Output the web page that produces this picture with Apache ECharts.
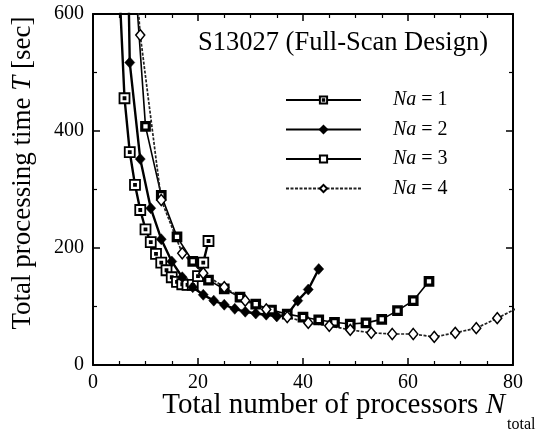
<!DOCTYPE html>
<html>
<head>
<meta charset="utf-8">
<script src="https://cdn.jsdelivr.net/npm/echarts@6/dist/echarts.min.js"></script>
<style>
html,body{margin:0;padding:0;background:#fff;}
#chart{width:541px;height:436px;}
</style>
</head>
<body>
<div id="chart"></div>
<script>
// ---- data ----
const seriesNames = ['Na = 1', 'Na = 2', 'Na = 3', 'Na = 4'];
const nNa1 = [5, 6, 7, 8, 9, 10, 11, 12, 13, 14, 15, 16, 17, 18, 19, 20, 21, 22];
const tNa1 = [650, 456, 364, 308, 265, 232, 210, 190, 175, 162, 150, 142, 138, 137, 137, 152, 175, 212];
const nNa2 = [5, 7, 9, 11, 13, 15, 17, 19, 21, 23, 25, 27, 29, 31, 33, 35, 37, 39, 41, 43];
const tNa2 = [1600, 517, 352, 268, 215, 177, 150, 133, 120, 110, 103, 96, 91, 88, 86, 83, 86, 110, 129, 164];
const nNa3 = [7, 10, 13, 16, 19, 22, 25, 28, 31, 34, 37, 40, 43, 46, 49, 52, 55, 58, 61, 64];
const tNa3 = [790, 408, 290, 219, 177, 145, 130, 116, 104, 94, 87, 82, 77, 73, 70, 72, 78, 93, 110, 143];
const nNa4 = [5, 9, 13, 17, 21, 25, 29, 33, 37, 41, 45, 49, 53, 57, 61, 65, 69, 73, 77, 81];
const tNa4 = [1040, 564, 282, 191, 157, 133, 110, 95, 82, 72, 67, 60, 55, 53, 53, 48, 55, 63, 80, 98];
const xTicks = [0, 20, 40, 60, 80];
const yTicks = [0, 200, 400, 600];

const FONT = 'Liberation Serif';
const zip = (a, b) => a.map((v, i) => [v, b[i]]);

const chart = echarts.init(document.getElementById('chart'), null, {renderer: 'canvas'});

const baseAxis = {
  axisLine: {show: true, onZero: false, lineStyle: {color: '#000', width: 2}},
  axisTick: {show: true, inside: true, length: 7, lineStyle: {color: '#000', width: 1.5}},
  minorTick: {show: true, length: 4, lineStyle: {color: '#000', width: 1.2}},
  splitLine: {show: false},
  minorSplitLine: {show: false}
};

const xAx = (pos, labels) => Object.assign({}, baseAxis, {
  type: 'value', position: pos, min: xTicks[0], max: xTicks[xTicks.length - 1], interval: 20,
  minorTick: Object.assign({}, baseAxis.minorTick, {splitNumber: 4}),
  axisLabel: {show: labels, color: '#000', fontFamily: FONT, fontSize: 20, margin: 8}
});
const yAx = (pos, labels) => Object.assign({}, baseAxis, {
  type: 'value', position: pos, min: yTicks[0], max: yTicks[yTicks.length - 1], interval: 200,
  minorTick: Object.assign({}, baseAxis.minorTick, {splitNumber: 2}),
  axisLabel: {show: labels, color: '#000', fontFamily: FONT, fontSize: 20, margin: 9}
});

const squareDot = 'path://M0,0L10,0L10,10L0,10Z M4,4L6,4L6,6L4,6Z';

const option = {
  backgroundColor: '#fff',
  animation: false,
  grid: {left: 93, right: 28, top: 14, bottom: 71, containLabel: false, outerBoundsMode: 'none'},
  xAxis: [xAx('bottom', true), xAx('top', false)],
  yAxis: [yAx('left', true), yAx('right', false)],
  legend: {
    show: true,
    orient: 'vertical',
    left: 285,
    top: 90,
    padding: 0,
    itemWidth: 75,
    itemHeight: 9,
    itemGap: 9.5,
    data: seriesNames,
    formatter: n => n.replace('Na', '{i|Na}'),
    textStyle: {
      color: '#000', fontFamily: FONT, fontSize: 20, lineHeight: 20, padding: [0, 0, 0, 27],
      rich: {i: {fontStyle: 'italic', fontFamily: FONT, fontSize: 20, color: '#000'}}
    }
  },
  graphic: [
    {type: 'text', left: 198, top: 30, style: {text: 'S13027 (Full-Scan Design)', fill: '#000', font: '26.5px "Liberation Serif"'}},
    {type: 'text', x: 23, y: 173, rotation: Math.PI / 2,
     style: {text: '{a|Total processing time }{i|T}{a| [sec]}', align: 'center', verticalAlign: 'middle',
             rich: {a: {fontFamily: FONT, fontSize: 27, fill: '#000'}, i: {fontFamily: FONT, fontSize: 27, fontStyle: 'italic', fill: '#000'}}}},
    {type: 'text', x: 505, y: 405,
     style: {text: '{a|Total number of processors }{i|N}', align: 'right', verticalAlign: 'middle',
             rich: {a: {fontFamily: FONT, fontSize: 29, fill: '#000'}, i: {fontFamily: FONT, fontSize: 29, fontStyle: 'italic', fill: '#000'}}}},
    {type: 'text', x: 507, y: 425,
     style: {text: 'total', align: 'left', verticalAlign: 'middle', fill: '#000', font: '16px "Liberation Serif"'}}
  ],
  series: [
    {name: seriesNames[0], type: 'line', data: zip(nNa1, tNa1), clip: true,
     symbol: squareDot, symbolSize: 10,
     itemStyle: {color: '#fff', borderColor: '#000', borderWidth: 1.8},
     lineStyle: {color: '#000', width: 2.4}},
    {name: seriesNames[1], type: 'line', data: zip(nNa2, tNa2), clip: true,
     symbol: 'diamond', symbolSize: [10, 11],
     itemStyle: {color: '#000', borderColor: '#000', borderWidth: 0.5},
     lineStyle: {color: '#000', width: 2.4}},
    {name: seriesNames[2], type: 'line', data: zip(nNa3, tNa3), clip: true,
     symbol: 'rect', symbolSize: 7.5,
     itemStyle: {color: '#fff', borderColor: '#000', borderWidth: 3.2},
     lineStyle: {color: '#000', width: 1.6}},
    {name: seriesNames[3], type: 'line', data: zip(nNa4, tNa4), clip: true,
     symbol: 'diamond', symbolSize: [9, 11],
     itemStyle: {color: '#fff', borderColor: '#000', borderWidth: 1.5},
     lineStyle: {color: '#222', width: 1.7, type: [3, 1.5]}}
  ]
};
chart.setOption(option);
</script>
</body>
</html>
